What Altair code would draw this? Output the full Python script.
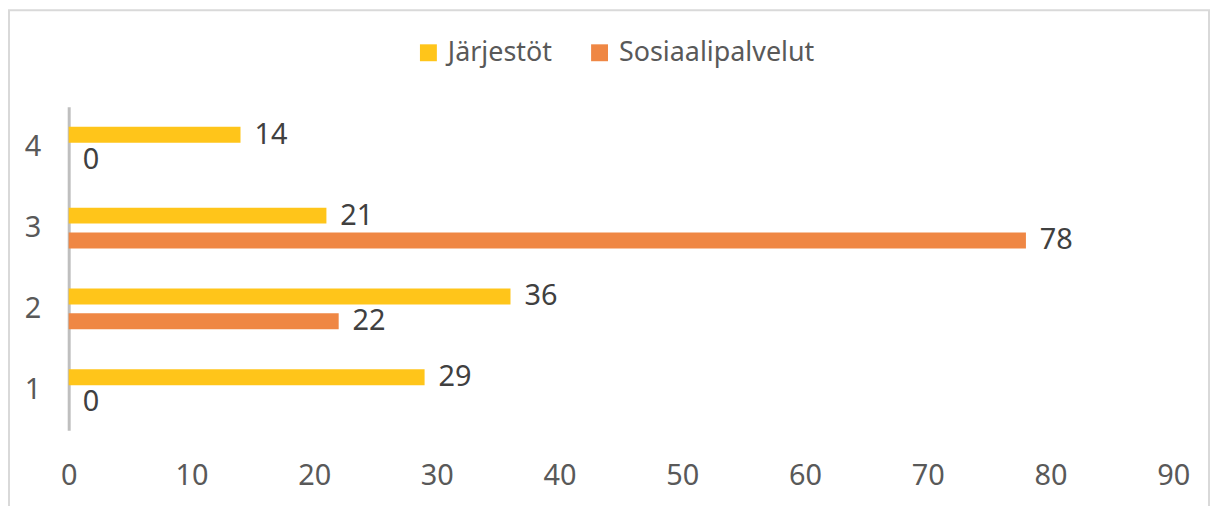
import altair as alt
import pandas as pd

categories = ["1", "2", "3", "4"]
jarjestot = [29, 36, 21, 14]
sosiaalipalvelut = [0, 22, 78, 0]
series_names = ["Järjestöt", "Sosiaalipalvelut"]
series_colors = ["#FFC51A", "#EF8744"]
x_ticks = [0, 10, 20, 30, 40, 50, 60, 70, 80, 90]

rows = []
for c, j, s in zip(categories, jarjestot, sosiaalipalvelut):
    rows.append({"cat": c, "series": series_names[0], "value": j})
    rows.append({"cat": c, "series": series_names[1], "value": s})
df = pd.DataFrame(rows)

W, H = 1110, 325
FONT = "Noto Sans"
NUM = 29

y_enc = alt.Y("cat:N", sort=["4", "3", "2", "1"],
              scale=alt.Scale(paddingInner=0.385, paddingOuter=0.1925),
              axis=alt.Axis(title=None, domainColor="#BFBFBF", domainWidth=3,
                            ticks=False, labelFontSize=NUM, labelColor="#595959",
                            labelFont=FONT, labelPadding=28, grid=False))
yoff = alt.YOffset("series:N", sort=series_names,
                   scale=alt.Scale(paddingInner=0.36, paddingOuter=0.18))

base = alt.Chart(df)

bars = base.mark_bar().encode(
    x=alt.X("value:Q", scale=alt.Scale(domain=[0, 90], nice=False),
            axis=alt.Axis(title=None, values=x_ticks, domain=False, ticks=False,
                          grid=False, labelFontSize=NUM, labelColor="#595959",
                          labelFont=FONT, labelPadding=32, labelFlush=False)),
    y=y_enc,
    yOffset=yoff,
    color=alt.Color("series:N", sort=series_names,
                    scale=alt.Scale(domain=series_names, range=series_colors),
                    legend=alt.Legend(title=None, orient="none", legendX=348,
                                      legendY=-68, direction="horizontal",
                                      symbolType="square", symbolSize=289,
                                      symbolStrokeWidth=0, labelLimit=0,
                                      labelFontSize=27, labelColor="#595959",
                                      labelFont=FONT, columnPadding=34,
                                      labelOffset=6)),
)

labels = base.mark_text(align="left", baseline="middle", dx=14, fontSize=NUM,
                        font=FONT, color="#404040").encode(
    x="value:Q",
    y=alt.Y("cat:N", sort=["4", "3", "2", "1"]),
    yOffset=yoff,
    text="value:Q",
)

border = alt.Chart(pd.DataFrame({"a": [0]})).mark_rect(
    fill=None, stroke="#D9D9D9", strokeWidth=2).encode(
    x=alt.value(-60), x2=alt.value(1146), y=alt.value(-97), y2=alt.value(410))

chart = alt.layer(border, bars, labels).properties(
    width=W, height=H,
    padding={"left": 61, "top": 98, "right": 39, "bottom": 77},
    autosize=alt.AutoSizeParams(type="none"),
).configure(background="white").configure_view(strokeWidth=0)

chart.save("out.html", embed_options={"renderer": "svg", "actions": False})
